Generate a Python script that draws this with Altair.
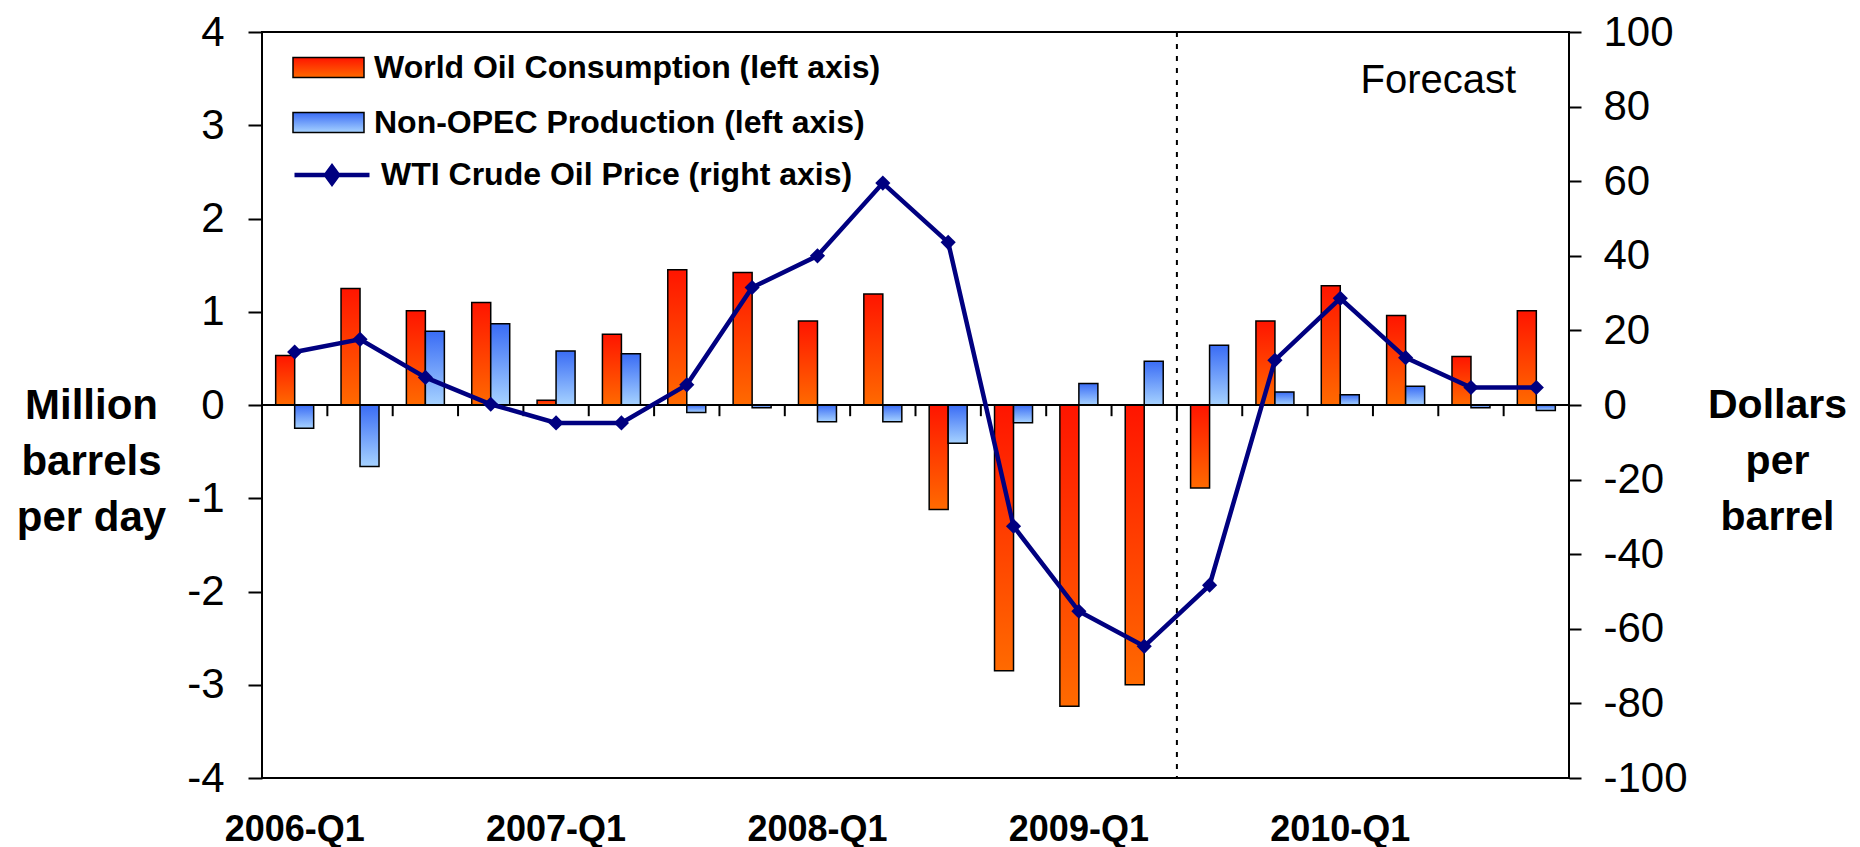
import altair as alt
import pandas as pd

quarters = ["2006-Q1", "2006-Q2", "2006-Q3", "2006-Q4",
            "2007-Q1", "2007-Q2", "2007-Q3", "2007-Q4",
            "2008-Q1", "2008-Q2", "2008-Q3", "2008-Q4",
            "2009-Q1", "2009-Q2", "2009-Q3", "2009-Q4",
            "2010-Q1", "2010-Q2", "2010-Q3", "2010-Q4"]
consumption = [0.53, 1.25, 1.01, 1.10, 0.05, 0.76, 1.45, 1.42, 0.90, 1.19,
               -1.12, -2.85, -3.23, -3.00, -0.89, 0.90, 1.28, 0.96, 0.52, 1.01]
nonopec = [-0.25, -0.66, 0.79, 0.87, 0.58, 0.55, -0.08, -0.03, -0.18, -0.18,
           -0.41, -0.19, 0.23, 0.47, 0.64, 0.14, 0.11, 0.20, -0.03, -0.06]
wti = [14.2, 17.6, 7.4, 0.2, -4.8, -4.8, 5.4, 31.5, 40.0, 59.5,
       43.6, -32.5, -55.3, -64.7, -48.3, 12.0, 28.6, 12.7, 4.7, 4.7]
left_ticks = [-4, -3, -2, -1, 0, 1, 2, 3, 4]
right_ticks = [-100, -80, -60, -40, -20, 0, 20, 40, 60, 80, 100]

CONS = "World Oil Consumption (left axis)"
NONO = "Non-OPEC Production (left axis)"
WTI = "WTI Crude Oil Price (right axis)"

df_c = pd.DataFrame({"q": quarters, "v": consumption, "s": "c", "name": CONS})
df_n = pd.DataFrame({"q": quarters, "v": nonopec, "s": "n", "name": NONO})
df_w = pd.DataFrame({"q": quarters, "p": wti, "name": WTI})
df_q = pd.DataFrame({"q": quarters, "z0": 0.0, "z1": -0.12})
df_zero = pd.DataFrame({"z": [0.0]})
df_fc = pd.DataFrame({"q": ["2009-Q3"]})
df_ft = pd.DataFrame({"q": ["2010-Q3"], "y": [3.47], "t": ["Forecast"]})

FONT = "Liberation Sans"

xscale = alt.Scale(domain=quarters, paddingInner=0, paddingOuter=0)
xaxis = alt.Axis(title=None, ticks=False, domain=False, grid=False, labelAngle=0,
                 labelFont=FONT, labelFontSize=36, labelFontWeight="bold",
                 labelColor="black", labelPadding=34, labelOverlap=False, labelLimit=400,
                 labelExpr="indexof(datum.label, 'Q1') >= 0 ? datum.label : ''")


def xenc(bp=None):
    if bp is None:
        return alt.X("q:N", scale=xscale, sort=quarters, axis=xaxis)
    return alt.X("q:N", scale=xscale, sort=quarters, axis=xaxis, bandPosition=bp)


yl_scale = alt.Scale(domain=[-4, 4], nice=False, zero=False)
yl_axis = alt.Axis(values=left_ticks, tickSize=14, tickWidth=2, tickColor="black",
                   domain=False, grid=False, labelFont=FONT, labelFontSize=42,
                   labelColor="black", labelPadding=24, labelExpr="'' + datum.value",
                   title=["Million", "barrels", "per day"], titleAngle=0, titleFont=FONT,
                   titleFontSize=42, titleFontWeight="bold", titleColor="black",
                   titleAlign="center", titleBaseline="middle", titleX=-171, titleY=373,
                   titleLineHeight=56)
yr_scale = alt.Scale(domain=[-100, 100], nice=False, zero=False)
yr_axis = alt.Axis(orient="right", values=right_ticks, tickSize=12, tickWidth=2,
                   tickColor="black", domain=False, grid=False, labelFont=FONT,
                   labelFontSize=42, labelColor="black", labelPadding=22,
                   labelExpr="'' + datum.value",
                   title=["Dollars", "per", "barrel"], titleAngle=0, titleFont=FONT,
                   titleFontSize=41, titleFontWeight="bold", titleColor="black",
                   titleAlign="center", titleBaseline="middle", titleX=208, titleY=373,
                   titleLineHeight=56)

xoff = alt.XOffset("s:N", scale=alt.Scale(domain=["c", "n"], paddingOuter=0.72, paddingInner=0))

orange_grad = alt.Gradient(gradient="linear",
                           stops=[alt.GradientStop(color="#FF1500", offset=0),
                                  alt.GradientStop(color="#FF6A00", offset=1)],
                           x1=0, x2=0, y1=0, y2=1)
blue_grad = alt.Gradient(gradient="linear",
                         stops=[alt.GradientStop(color="#3A6CF5", offset=0),
                                alt.GradientStop(color="#A6D2FF", offset=1)],
                         x1=0, x2=0, y1=0, y2=1)

BOX = "M-1,-0.28H1V0.28H-1Z"
LINESYM = "M-1,0H1M0,-0.22L0.16,0L0,0.22L-0.16,0Z"


def leg(y, path, size, fillc, strokew):
    return alt.Legend(orient="none", legendX=30, legendY=y, title=None, padding=0,
                      symbolType=path, symbolSize=size, symbolFillColor=fillc,
                      symbolStrokeWidth=strokew, symbolOpacity=1,
                      labelFont=FONT, labelFontSize=32, labelFontWeight="bold",
                      labelColor="black", labelOffset=9, labelLimit=900)


bars_c = alt.Chart(df_c).mark_bar(fill=orange_grad, strokeWidth=1.5).encode(
    x=xenc(), xOffset=xoff,
    y=alt.Y("v:Q", scale=yl_scale, axis=yl_axis),
    stroke=alt.Stroke("name:N", scale=alt.Scale(range=["black"]),
                      legend=leg(-1, BOX, 5041, "#FF5000", 1.5)),
)
bars_n = alt.Chart(df_n).mark_bar(fill=blue_grad, strokeWidth=1.5).encode(
    x=xenc(), xOffset=xoff,
    y=alt.Y("v:Q", scale=yl_scale, axis=yl_axis),
    stroke=alt.Stroke("name:N", scale=alt.Scale(range=["black"]),
                      legend=leg(54, BOX, 5041, "#82B4FF", 1.5)),
)
zero = alt.Chart(df_zero).mark_rule(color="black", strokeWidth=2).encode(
    y=alt.Y("z:Q", scale=yl_scale, axis=yl_axis))
qticks = alt.Chart(df_q).mark_rule(color="black", strokeWidth=2).encode(
    x=xenc(0), y=alt.Y("z0:Q", scale=yl_scale, axis=yl_axis), y2="z1:Q")
frule = alt.Chart(df_fc).mark_rule(color="black", strokeWidth=2, strokeDash=[5, 7]).encode(
    x=xenc(0))
ftext = alt.Chart(df_ft).mark_text(font=FONT, fontSize=40, color="black",
                                   baseline="middle", align="center").encode(
    x=xenc(0), y=alt.Y("y:Q", scale=yl_scale, axis=yl_axis), text="t:N")

left_layer = alt.layer(bars_c, bars_n, zero, qticks, frule, ftext).resolve_scale(
    stroke="independent")

line = alt.Chart(df_w).mark_line(strokeWidth=4.5).encode(
    x=xenc(),
    y=alt.Y("p:Q", scale=yr_scale, axis=yr_axis),
    stroke=alt.Stroke("name:N", scale=alt.Scale(range=["#000080"]),
                      legend=leg(103, LINESYM, 5625, "#000080", 4.5)),
)
pts = alt.Chart(df_w).mark_point(shape="diamond", filled=True, size=230,
                                 color="#000080", opacity=1).encode(
    x=xenc(), y=alt.Y("p:Q", scale=yr_scale, axis=yr_axis))
right_layer = alt.layer(line, pts)

chart = alt.layer(left_layer, right_layer).resolve_scale(
    y="independent", stroke="independent"
).properties(
    width=1307, height=746,
    autosize=alt.AutoSizeParams(type="none"),
    padding={"left": 254, "top": 24, "right": 283, "bottom": 69},
    background="white",
).configure_view(stroke="black", strokeWidth=2)

chart.save("out.html", embed_options={"renderer": "svg", "actions": False})
